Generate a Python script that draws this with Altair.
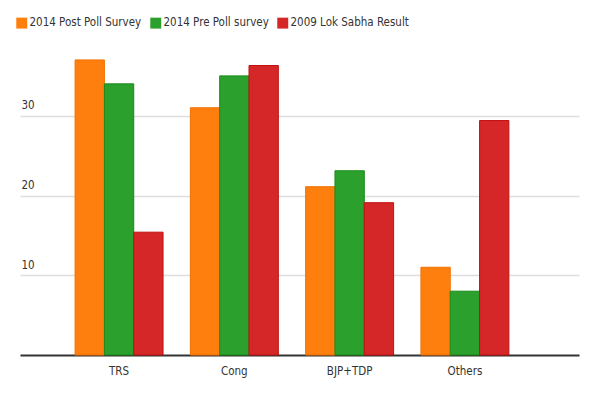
import altair as alt
import pandas as pd

parties = ["TRS", "Cong", "BJP+TDP", "Others"]
series = ["2014 Post Poll Survey", "2014 Pre Poll survey", "2009 Lok Sabha Result"]
post_poll = [37.0, 31.0, 21.1, 11.0]
pre_poll = [34.0, 35.0, 23.1, 8.0]
result_2009 = [15.4, 36.3, 19.1, 29.4]
fill_colors = ["#ff7f0e", "#2ca02c", "#d62728"]
stroke_colors = ["#f07000", "#178a17", "#c01010"]
y_ticks = [10, 20, 30]

rows = []
for s, vals in zip(series, [post_poll, pre_poll, result_2009]):
    for p, v in zip(parties, vals):
        rows.append({"party": p, "series": s, "value": v})
df = pd.DataFrame(rows)

FONT = "'DejaVu Sans Condensed', 'Liberation Sans Narrow', 'Roboto', sans-serif"

chart = alt.Chart(df).mark_bar(strokeWidth=1).encode(
    x=alt.X("party:N", sort=parties,
            scale=alt.Scale(paddingInner=0.237, paddingOuter=0.543, align=0.44),
            axis=alt.Axis(title=None, labelAngle=0, ticks=False, labelPadding=10,
                          domain=True, domainColor="#333333", domainWidth=2,
                          labelFont=FONT, labelFontSize=11.5, labelColor="#333333")),
    xOffset=alt.XOffset("series:N", sort=series),
    y=alt.Y("value:Q", scale=alt.Scale(domain=[0, 40], nice=False),
            axis=alt.Axis(title=None, values=y_ticks, domain=False, ticks=False, tickSize=0,
                          labelAlign="left", labelBaseline="bottom", labelPadding=-1,
                          labelOffset=-5, gridColor="#dddddd", gridWidth=1.5,
                          labelFont=FONT, labelFontSize=11.5, labelColor="#333333")),
    color=alt.Color("series:N", sort=series,
                    scale=alt.Scale(domain=series, range=fill_colors),
                    legend=alt.Legend(title=None, orient="none", legendX=-4, legendY=-19,
                                      direction="horizontal", symbolType="square",
                                      symbolSize=120, symbolStrokeWidth=0,
                                      labelFont=FONT, labelFontSize=11.5, labelColor="#333333",
                                      columnPadding=8, labelOffset=2)),
    stroke=alt.Stroke("series:N", sort=series,
                      scale=alt.Scale(domain=series, range=stroke_colors), legend=None),
).properties(
    width=559, height=319,
    autosize=alt.AutoSizeParams(type="none"),
    padding={"left": 12, "top": 28, "right": 13, "bottom": 37},
).configure_view(stroke=None)

chart.save("out.html", embed_options={"renderer": "svg", "actions": False})
